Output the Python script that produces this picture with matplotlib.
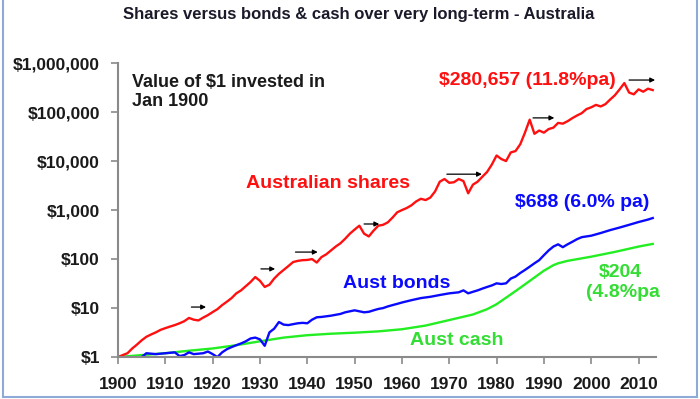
import matplotlib
matplotlib.use("Agg")
import matplotlib.pyplot as plt
from matplotlib.ticker import FixedLocator, FuncFormatter

plt.rcParams["font.family"] = ["Liberation Sans", "DejaVu Sans"]

# Value of $1 invested in Jan 1900
share_years = [1900, 1901, 1902, 1903, 1904, 1905, 1906, 1907, 1908, 1909,
               1910, 1911, 1912, 1913, 1914, 1915, 1916, 1917, 1918, 1919,
               1920, 1921, 1922, 1923, 1924, 1925, 1926, 1927, 1928, 1929,
               1930, 1931, 1932, 1933, 1934, 1935, 1936, 1937, 1938, 1939,
               1940, 1941, 1942, 1943, 1944, 1945, 1946, 1947, 1948, 1949,
               1950, 1951, 1952, 1953, 1954, 1955, 1956, 1957, 1958, 1959,
               1960, 1961, 1962, 1963, 1964, 1965, 1966, 1967, 1968, 1969,
               1970, 1971, 1972, 1973, 1974, 1975, 1976, 1977, 1978, 1979,
               1980, 1981, 1982, 1983, 1984, 1985, 1986, 1987, 1988, 1989,
               1990, 1991, 1992, 1993, 1994, 1995, 1996, 1997, 1998, 1999,
               2000, 2001, 2002, 2003, 2004, 2005, 2006, 2007, 2008, 2009,
               2010, 2011, 2012, 2013]
shares = [1.0, 1.1, 1.2, 1.5, 1.8, 2.2, 2.6, 2.9, 3.2, 3.6,
          3.9, 4.2, 4.5, 4.9, 5.4, 6.3, 5.8, 5.6, 6.4, 7.2,
          8.3, 9.5, 11.5, 13.5, 16, 20, 23, 28, 34, 43,
          36, 27, 30, 40, 50, 60, 72, 87, 92, 95,
          96, 100, 85, 110, 125, 150, 180, 210, 260, 330,
          400, 480, 330, 290, 380, 480, 500, 560, 700, 900,
          1000, 1100, 1250, 1500, 1700, 1600, 1800, 2400, 3800, 4300,
          3600, 3700, 4300, 3900, 2200, 3300, 3800, 4800, 6000, 8500,
          13000, 11000, 10000, 15000, 16000, 22000, 38000, 70000, 36000, 42000,
          38000, 45000, 48000, 60000, 58000, 65000, 75000, 85000, 95000, 115000,
          125000, 140000, 130000, 145000, 180000, 220000, 290000, 390000, 250000, 230000,
          290000, 260000, 300000, 280657]

bond_years = [1900, 1902, 1904, 1905, 1906, 1908, 1910, 1912, 1913, 1914,
              1915, 1916, 1918, 1919, 1920, 1921, 1922, 1923, 1924, 1925,
              1926, 1927, 1928, 1929, 1930, 1931, 1932, 1933, 1934, 1935,
              1936, 1937, 1938, 1939, 1940, 1941, 1942, 1943, 1944, 1945,
              1946, 1947, 1948, 1949, 1950, 1951, 1952, 1953, 1954, 1955,
              1956, 1957, 1958, 1959, 1960, 1962, 1964, 1965, 1966, 1968,
              1970, 1972, 1973, 1974, 1975, 1976, 1977, 1978, 1979, 1980,
              1981, 1982, 1983, 1984, 1985, 1986, 1987, 1988, 1989, 1990,
              1991, 1992, 1993, 1994, 1995, 1996, 1997, 1998, 1999, 2000,
              2002, 2004, 2006, 2008, 2010, 2012, 2013]
bonds = [1.0, 1.0, 0.95, 1.0, 1.2, 1.15, 1.2, 1.25, 1.05, 1.1,
         1.25, 1.15, 1.2, 1.3, 1.15, 1.0, 1.25, 1.45, 1.6, 1.75,
         1.9, 2.1, 2.4, 2.5, 2.3, 1.7, 3.2, 3.8, 5.2, 4.6,
         4.5, 4.7, 4.9, 5.0, 4.9, 5.8, 6.5, 6.6, 6.8, 7.0,
         7.3, 7.6, 8.2, 8.6, 9.0, 8.6, 8.2, 8.4, 9.0, 9.6,
         10.0, 10.8, 11.5, 12.2, 13, 14.5, 16, 16.5, 17, 18.5,
         20, 21, 23, 20, 21.5, 23, 25, 27, 29, 32,
         31, 32, 40, 44, 52, 60, 70, 82, 95, 120,
         150, 180, 200, 175, 200, 225, 255, 280, 290, 300,
         340, 390, 440, 500, 570, 640, 688]

cash_years = [1900, 1905, 1910, 1915, 1920, 1925, 1930, 1935, 1940, 1945,
              1950, 1955, 1960, 1965, 1970, 1975, 1978, 1980, 1983, 1985,
              1988, 1990, 1992, 1993, 1995, 2000, 2005, 2010, 2013]
cash = [1.0, 1.1, 1.2, 1.35, 1.5, 1.75, 2.1, 2.5, 2.8, 3.0,
        3.15, 3.35, 3.7, 4.4, 5.7, 7.4, 9.5, 12, 19, 26,
        42, 58, 75, 82, 92, 112, 140, 180, 204]

# bear market arrows: start year, end year, level
arrow_start = [1915.5, 1930.2, 1937.5, 1952.0, 1969.5, 1987.7, 2008.0]
arrow_end = [1918.6, 1933.2, 1942.2, 1955.2, 1976.9, 1992.2, 2013.5]
arrow_level = [10.5, 63, 139, 520, 5400, 76000, 450000]

y_ticks = [1, 10, 100, 1000, 10000, 100000, 1000000]
x_ticks = list(range(1900, 2011, 10))

fig = plt.figure(figsize=(7, 3.99), dpi=100)
ax = fig.add_axes([0.1686, 0.105, 0.7686, 0.737])

ax.plot(cash_years, cash, color="#22ee22", lw=1.7)
ax.plot(bond_years, bonds, color="#0a0aff", lw=1.7)
ax.plot(share_years, shares, color="#ff1010", lw=1.7)

for x0, x1, lvl in zip(arrow_start, arrow_end, arrow_level):
    ax.annotate("", xy=(x1, lvl), xytext=(x0, lvl),
                arrowprops=dict(arrowstyle="-|>", color="black", lw=0.9,
                                mutation_scale=7, shrinkA=0, shrinkB=0))

ax.set_yscale("log")
ax.set_ylim(1, 1000000)
ax.set_xlim(1900, 2013.7)
ax.yaxis.set_major_locator(FixedLocator(y_ticks))
ax.yaxis.set_minor_locator(FixedLocator([]))
ax.yaxis.set_major_formatter(FuncFormatter(lambda v, p: "${:,.0f}".format(v)))
ax.set_xticks(x_ticks)

for side in ["top", "right"]:
    ax.spines[side].set_visible(False)
for side in ["left", "bottom"]:
    ax.spines[side].set_color("#8a8a8a")
    ax.spines[side].set_linewidth(1.5)
ax.tick_params(axis="both", colors="#8a8a8a", length=5, width=1.2)
ax.tick_params(axis="y", labelsize=12.5, labelcolor="#1a1a1a", pad=8)
ax.tick_params(axis="x", labelsize=12.5, labelcolor="#1a1a1a", pad=9)
for lab in ax.get_xticklabels() + ax.get_yticklabels():
    lab.set_fontweight("bold")

fig.suptitle("Shares versus bonds & cash over very long-term - Australia",
             x=0.513, y=0.982, fontsize=12, fontweight="bold", color="#1a1a2a")

ax.text(0.026, 0.903, "Value of $1 invested in\nJan 1900", transform=ax.transAxes,
        fontsize=13, fontweight="bold", color="#1a1a1a", ha="left", va="center",
        linespacing=1.15)
ax.text(0.391, 0.592, "Australian shares", transform=ax.transAxes, fontsize=14,
        fontweight="bold", color="#ff1010", ha="center", va="center")
ax.text(0.761, 0.942, "$280,657 (11.8%pa)", transform=ax.transAxes, fontsize=14,
        fontweight="bold", color="#ff1010", ha="center", va="center")
ax.text(0.862, 0.527, "$688 (6.0% pa)", transform=ax.transAxes, fontsize=14,
        fontweight="bold", color="#0a0aff", ha="center", va="center")
ax.text(0.518, 0.252, "Aust bonds", transform=ax.transAxes, fontsize=14,
        fontweight="bold", color="#0a0aff", ha="center", va="center")
ax.text(0.629, 0.058, "Aust cash", transform=ax.transAxes, fontsize=14,
        fontweight="bold", color="#33dd33", ha="center", va="center")
ax.text(0.934, 0.289, "$204", transform=ax.transAxes, fontsize=14,
        fontweight="bold", color="#33dd33", ha="center", va="center")
ax.text(0.938, 0.218, "(4.8%pa", transform=ax.transAxes, fontsize=14,
        fontweight="bold", color="#33dd33", ha="center", va="center")

# light blue frame round the picture
frame = dict(color="#8eaad6", lw=1.5, transform=fig.transFigure)
fig.add_artist(plt.Line2D([0.004, 0.004], [0.006, 1.0], **frame))
fig.add_artist(plt.Line2D([0.996, 0.996], [0.006, 1.0], **frame))
fig.add_artist(plt.Line2D([0.004, 0.996], [0.006, 0.006], **frame))

fig.savefig("out.png", dpi=100)
